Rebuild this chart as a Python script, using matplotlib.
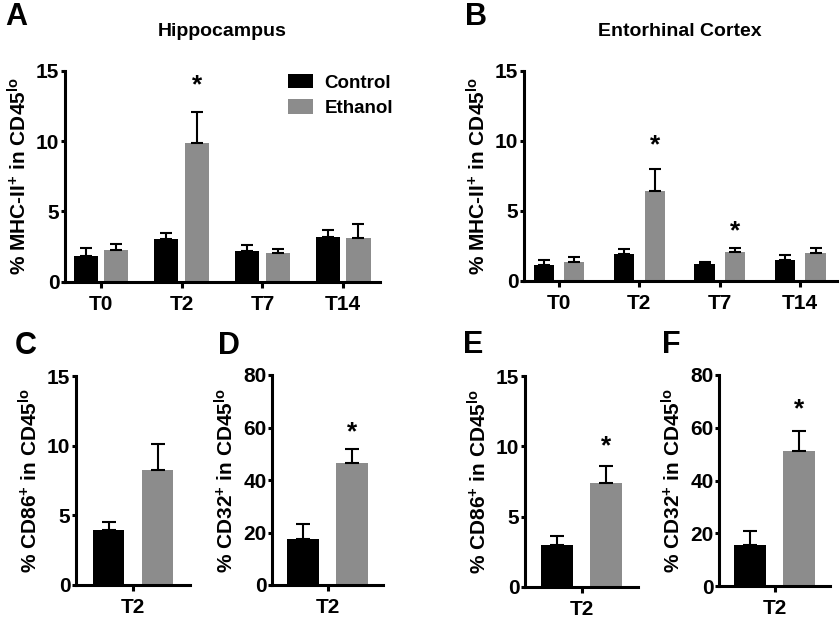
import numpy as np
import matplotlib
matplotlib.use('Agg')
import matplotlib.pyplot as plt

plt.rcParams['font.family'] = 'Liberation Sans'
plt.rcParams['font.weight'] = 'bold'
plt.rcParams['mathtext.fontset'] = 'custom'
plt.rcParams['mathtext.rm'] = 'Liberation Sans:bold'
plt.rcParams['mathtext.it'] = 'Liberation Sans:bold'
plt.rcParams['mathtext.bf'] = 'Liberation Sans:bold'

# data
groups = ['T0', 'T2', 'T7', 'T14']
hip_ctrl = [1.85, 3.0, 2.18, 3.18]
hip_ctrl_err = [0.52, 0.48, 0.42, 0.52]
hip_eth = [2.25, 9.9, 2.0, 3.08]
hip_eth_err = [0.45, 2.19, 0.32, 1.04]
ent_ctrl = [1.12, 1.87, 1.2, 1.48]
ent_ctrl_err = [0.38, 0.38, 0.1, 0.34]
ent_eth = [1.36, 6.39, 2.03, 2.0]
ent_eth_err = [0.29, 1.62, 0.31, 0.34]

t2 = ['T2']
hip_cd86 = [3.92, 8.26]
hip_cd86_err = [0.57, 1.86]
hip_cd32 = [17.65, 46.6]
hip_cd32_err = [5.55, 5.3]
ent_cd86 = [2.96, 7.39]
ent_cd86_err = [0.64, 1.24]
ent_cd32 = [15.7, 51.3]
ent_cd32_err = [5.3, 7.6]

BLACK = '#000000'
GRAY = '#8c8c8c'
W, H = 840, 618

fig = plt.figure(figsize=(8.4, 6.18), dpi=100)


def make_ax(left, top, right, bottom):
    return fig.add_axes([left / W, 1 - bottom / H, (right - left) / W, (bottom - top) / H])


def style(ax, ymax, ystep, xlim, xticks, xlabels, ylabel, labelpad):
    ax.set_ylim(0, ymax)
    ax.set_yticks(np.arange(0, ymax + 1, ystep))
    ax.set_xlim(*xlim)
    ax.set_xticks(xticks)
    ax.set_xticklabels(xlabels)
    for s in ['top', 'right']:
        ax.spines[s].set_visible(False)
    for s in ['left', 'bottom']:
        ax.spines[s].set_linewidth(2.2)
    ax.tick_params(axis='y', length=3, width=2.2, pad=1, labelsize=15)
    ax.tick_params(axis='x', length=4.5, width=2.2, pad=5, labelsize=15)
    ax.set_ylabel(ylabel, fontsize=15, fontweight='bold', labelpad=labelpad)


def bars(ax, x, ctrl, ctrl_err, eth, eth_err, width, offset, capsize):
    x = np.asarray(x, dtype=float)
    kw = dict(ecolor='black', capsize=capsize, error_kw=dict(elinewidth=1.5, capthick=1.5), zorder=2)
    ax.bar(x - offset, ctrl, width, color=BLACK, label='Control',
           yerr=[np.zeros(len(ctrl)), ctrl_err], **kw)
    ax.bar(x + offset, eth, width, color=GRAY, label='Ethanol',
           yerr=[np.zeros(len(eth)), eth_err], **kw)


def star(ax, x, y):
    ax.text(x, y, '*', ha='center', va='baseline', fontsize=19, fontweight='bold')


mhc_label = r'% MHC-II$^{+}$ in CD45$^{lo}$'
cd86_label = r'% CD86$^{+}$ in CD45$^{lo}$'
cd32_label = r'% CD32$^{+}$ in CD45$^{lo}$'

# A: hippocampus
axA = make_ax(65, 71, 380, 281.5)
xg = np.arange(len(groups))
bars(axA, xg, hip_ctrl, hip_ctrl_err, hip_eth, hip_eth_err, 0.30, 0.19, 4.3)
style(axA, 15, 5, (-0.446, 3.457), xg, groups, mhc_label, 4)
star(axA, 1 + 0.19, 13.5)
axA.legend(loc='upper left', bbox_to_anchor=(288 / W, 1 - 74 / H), bbox_transform=fig.transFigure,
           frameon=False, fontsize=13.5, handlelength=1.35, handleheight=0.8,
           handletextpad=0.6, labelspacing=0.4, borderpad=0, borderaxespad=0)

# B: entorhinal cortex
axB = make_ax(524, 71, 837, 280.5)
bars(axB, xg, ent_ctrl, ent_ctrl_err, ent_eth, ent_eth_err, 0.25, 0.19, 4.3)
style(axB, 15, 5, (-0.434, 3.457), xg, groups, mhc_label, 4)
star(axB, 1 + 0.19, 9.2)
star(axB, 2 + 0.19, 3.0)

# C-F: T2 only
axC = make_ax(76, 376, 190, 585)
bars(axC, [0], [hip_cd86[0]], [hip_cd86_err[0]], [hip_cd86[1]], [hip_cd86_err[1]], 0.31, 0.245, 5)
style(axC, 15, 5, (-0.57, 0.57), [0], t2, cd86_label, 4)

axD = make_ax(272, 375, 383, 585)
bars(axD, [0], [hip_cd32[0]], [hip_cd32_err[0]], [hip_cd32[1]], [hip_cd32_err[1]], 0.32, 0.245, 5)
style(axD, 80, 20, (-0.555, 0.555), [0], t2, cd32_label, 4)
star(axD, 0.245, 55.5)

axE = make_ax(525, 376, 638, 587)
bars(axE, [0], [ent_cd86[0]], [ent_cd86_err[0]], [ent_cd86[1]], [ent_cd86_err[1]], 0.32, 0.245, 5)
style(axE, 15, 5, (-0.565, 0.565), [0], t2, cd86_label, 4)
star(axE, 0.245, 9.5)

axF = make_ax(719, 375, 830, 586)
bars(axF, [0], [ent_cd32[0]], [ent_cd32_err[0]], [ent_cd32[1]], [ent_cd32_err[1]], 0.32, 0.245, 5)
style(axF, 80, 20, (-0.56, 0.55), [0], t2, cd32_label, 4)
star(axF, 0.245, 64.5)

# titles and panel letters
fig.text(222 / W, 1 - 31.5 / H, 'Hippocampus', ha='center', va='center', fontsize=14, fontweight='bold')
fig.text(680 / W, 1 - 31.5 / H, 'Entorhinal Cortex', ha='center', va='center', fontsize=14, fontweight='bold')
for letter, lx, ly in [('A', 5, 25), ('B', 465, 25), ('C', 15, 354), ('D', 218, 354),
                       ('E', 463, 353), ('F', 662, 353)]:
    fig.text(lx / W, 1 - ly / H, letter, ha='left', va='baseline', fontsize=22, fontweight='bold')

fig.savefig('out.png', dpi=100)
